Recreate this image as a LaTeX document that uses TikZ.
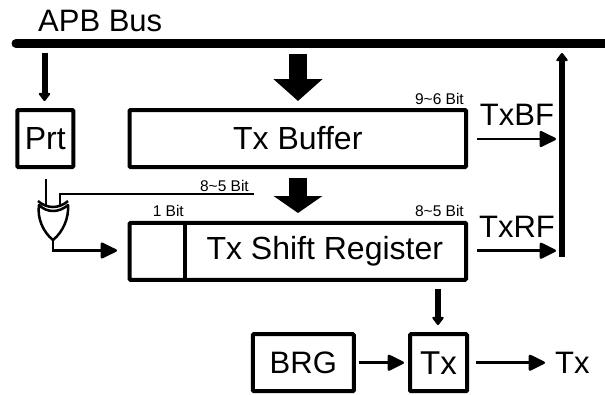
\documentclass[tikz,border=0pt]{standalone}
\usepackage{fontspec}
\setmainfont{Liberation Sans}
\usetikzlibrary{arrows.meta,positioning}

\begin{document}
\begin{tikzpicture}
[x=1pt,y=-1pt,node distance=100pt,font=\fontsize{31}{34}\selectfont]
\tikzstyle{blk}=[draw,line width=4pt,rounded corners=1pt,inner sep=0pt,minimum height=57pt]
\tikzstyle{lbl}=[font=\fontsize{15.5}{17}\selectfont,inner sep=0pt]
\tikzstyle{flag}=[inner sep=0pt]
\tikzstyle{thin}=[line width=2.5pt,-{Triangle[round,length=18pt,width=17pt]}]
\tikzstyle{mid}=[line width=6pt,-{Triangle[round,length=9pt,width=13pt]}]
\tikzstyle{big}=[line width=18pt,-{Triangle[length=22pt,width=48pt]}]
\tikzstyle{wire}=[line width=2.5pt]
\useasboundingbox (0,0) rectangle (605,394);

\coordinate (bus_l) at (16,43.5);
\coordinate (bus_r) at (605,43.5);
\draw[line width=9pt,line cap=round] (bus_l) -- (bus_r);
\node[flag,anchor=base west] (apb) at (38,31.5) {APB Bus};

\node[blk,minimum width=56pt,font=\fontsize{32}{35}\selectfont] (prt) at (45.3,138.5) {Prt};
\node[blk,minimum width=336.5pt,font=\fontsize{32}{35}\selectfont] (buf) [right of = prt, node distance=252.5pt] {Tx Buffer};
\node[blk,minimum width=336.5pt,font=\fontsize{32}{35}\selectfont] (reg) [below of = buf, node distance=112.8pt] {\hspace*{54pt}Tx Shift Register};
\node[blk,minimum width=57pt,font=\fontsize{33}{36}\selectfont] (tx) at (438.5,362.7) {Tx};
\node[blk,minimum width=101pt] (brg) [left of = tx, node distance=135.2pt] {BRG};
\node[flag,anchor=west] (txo) at (555,362.7) {Tx};
\draw[line width=4pt] (reg.north west -| 185,0) -- (reg.south west -| 185,0);

\node[lbl,anchor=base east] (l_96) at (464,104) {9\textasciitilde 6 Bit};
\node[lbl,anchor=base east] (l_85) at (464,216) {8\textasciitilde 5 Bit};
\node[lbl,anchor=base east] (l_1) at (184,216) {1 Bit};
\node[lbl,anchor=base east] (l_85b) at (249,191) {8\textasciitilde 5 Bit};
\node[flag,anchor=base] (txbf) at (517,125) {TxBF};
\node[flag,anchor=base] (txrf) at (517,237.5) {TxRF};

% xor gate
\coordinate (xor_a) at (46,179);
\coordinate (xor_b) at (254,194);
\coordinate (xor_o) at (53,240);
\draw[wire,line join=round] (39,205) .. controls (47,213) and (59,213) .. (68,205)
  .. controls (69,218) and (63,232) .. (xor_o)
  .. controls (43,232) and (37,218) .. (39,205) -- cycle;
\draw[wire] (38,201) .. controls (47,209) and (59,209) .. (68,201);
\draw[wire] (xor_a) -- (46,206);
\draw[wire] (xor_b) -- (60,194) -- (60,206);
\draw[thin] (xor_o) -- (53,250.5) -- (117,250.5);

\coordinate (a_1) at (44.5,53);
\coordinate (a_2) at (44.5,101);
\coordinate (b_1) at (298,54);
\coordinate (b_2) at (298,101);
\coordinate (c_1) at (298,178);
\coordinate (c_2) at (298,213);
\coordinate (d_1) at (438,289);
\coordinate (d_2) at (438,325);
\coordinate (e_1) at (477,139);
\coordinate (e_2) at (556,139);
\coordinate (f_1) at (477,250.7);
\coordinate (f_2) at (556,250.7);
\coordinate (g_1) at (562,257);
\coordinate (g_2) at (562,53);

\path
	(a_1) edge[mid] (a_2)
	(b_1) edge[big] (b_2)
	(c_1) edge[big,-{Triangle[length=17pt,width=48pt]}] (c_2)
	(d_1) edge[mid] (d_2)
	(e_1) edge[thin] (e_2)
	(f_1) edge[thin] (f_2)
	(g_1) edge[mid] (g_2)
	(brg) edge[thin,shorten <=3pt,shorten >=4pt] (tx)
	(tx) edge[thin,shorten <=7pt,shorten >=10pt] (txo)
	;
\end{tikzpicture}
\end{document}
